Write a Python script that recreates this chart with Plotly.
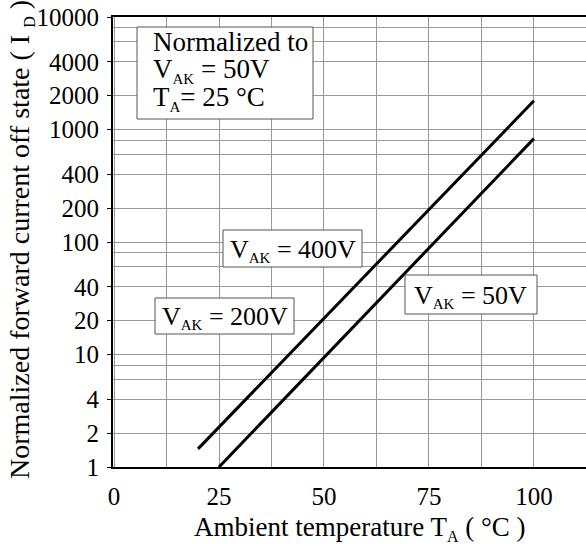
import plotly.graph_objects as go

# ---- data ----
temp_400v = [20, 100]
current_400v = [1.45, 1800]
temp_50v = [25, 100]
current_50v = [1, 830]

x_tick_vals = [0, 25, 50, 75, 100]
x_tick_text = ["0", "25", "50", "75", "100"]
y_tick_vals = [1, 2, 4, 10, 20, 40, 100, 200, 400, 1000, 2000, 4000, 10000]
y_tick_text = ["1", "2", "4", "10", "20", "40", "100", "200", "400",
               "1000", "2000", "4000", "10000"]
y_minor_vals = [6, 8, 60, 80, 600, 800, 6000, 8000]


def sub(t, size=15):
    return f"<sub><span style='font-size:{size}px'>{t}</span></sub>"


label_400 = "V" + sub("AK") + " = 400V"
label_200 = "V" + sub("AK") + " = 200V"
label_50 = "V" + sub("AK") + " = 50V"
norm_lines = ["Normalized to", "V" + sub("AK") + " = 50V", "T" + sub("A") + "= 25 °C"]
x_title = "Ambient temperature T" + sub("A", 16) + " ( °C )"
y_title = "Normalized forward current off state ( I " + sub("D", 16) + " )"

# ---- layout geometry (pixels) ----
W, H = 586, 553
L, R, T, B = 113, 586, 17, 467
FONT = "Liberation Serif"


def fx(px):
    return (px - L) / (R - L)


def fy(py):
    return (B - py) / (B - T)


fig = go.Figure()
fig.add_trace(go.Scatter(x=temp_400v, y=current_400v, mode="lines",
                         line=dict(color="black", width=3), showlegend=False,
                         hoverinfo="skip"))
fig.add_trace(go.Scatter(x=temp_50v, y=current_50v, mode="lines",
                         line=dict(color="black", width=3), showlegend=False,
                         hoverinfo="skip"))

grid = "#999999"
fig.update_xaxes(range=[-0.25, 112.4], tickmode="array", tickvals=x_tick_vals,
                 ticktext=x_tick_text, showgrid=True, gridcolor=grid, gridwidth=1,
                 minor=dict(tickmode="linear", tick0=0, dtick=12.5, showgrid=True,
                            gridcolor=grid, gridwidth=1, ticks=""),
                 showline=True, linecolor="black", linewidth=2, mirror=True,
                 zeroline=False, ticks="", ticklabelstandoff=6,
                 tickfont=dict(family=FONT, size=25, color="black"))
fig.update_yaxes(type="log", range=[0, 4], tickmode="array", tickvals=y_tick_vals,
                 ticktext=y_tick_text, showgrid=True, gridcolor=grid, gridwidth=1,
                 minor=dict(tickmode="array", tickvals=y_minor_vals, showgrid=True,
                            gridcolor=grid, gridwidth=1, ticks=""),
                 showline=True, linecolor="black", linewidth=2, mirror=False,
                 zeroline=False, ticks="outside", ticklen=4, tickcolor="black",
                 ticklabelstandoff=3,
                 tickfont=dict(family=FONT, size=25, color="black"))

shapes = []
annotations = []


def box(x0, y0, x1, y1):
    shapes.append(dict(type="rect", xref="paper", yref="paper",
                       x0=fx(x0), x1=fx(x1), y0=fy(y1), y1=fy(y0),
                       line=dict(color="#555555", width=1), fillcolor="white",
                       layer="above"))


def text(t, px, py, xanchor="center", size=26, angle=0):
    annotations.append(dict(text=t, xref="paper", yref="paper", x=fx(px), y=fy(py),
                            xanchor=xanchor, yanchor="middle", showarrow=False,
                            textangle=angle,
                            font=dict(family=FONT, size=size, color="black")))


box(137, 27, 313, 119)
text(norm_lines[0], 151, 42, xanchor="left", size=27)
text(norm_lines[1], 151, 70, xanchor="left", size=27)
text(norm_lines[2], 151, 99, xanchor="left", size=27)

box(223, 230, 362, 267)
text(label_400, 293, 250)
box(155, 298, 294, 334)
text(label_200, 225, 317)
box(405, 275, 537, 314)
text(label_50, 470, 296)

text(x_title, 360, 528, size=27)
text(y_title, 21, 240, size=28, angle=-90)

fig.update_layout(width=W, height=H, margin=dict(l=L, r=W - R, t=T, b=H - B),
                  paper_bgcolor="white", plot_bgcolor="white",
                  shapes=shapes, annotations=annotations,
                  font=dict(family=FONT, color="black"))

fig.write_html("out.html", config={"displayModeBar": False},
               post_script="document.body.style.margin='0px';"
                           "document.body.style.overflow='hidden';")
